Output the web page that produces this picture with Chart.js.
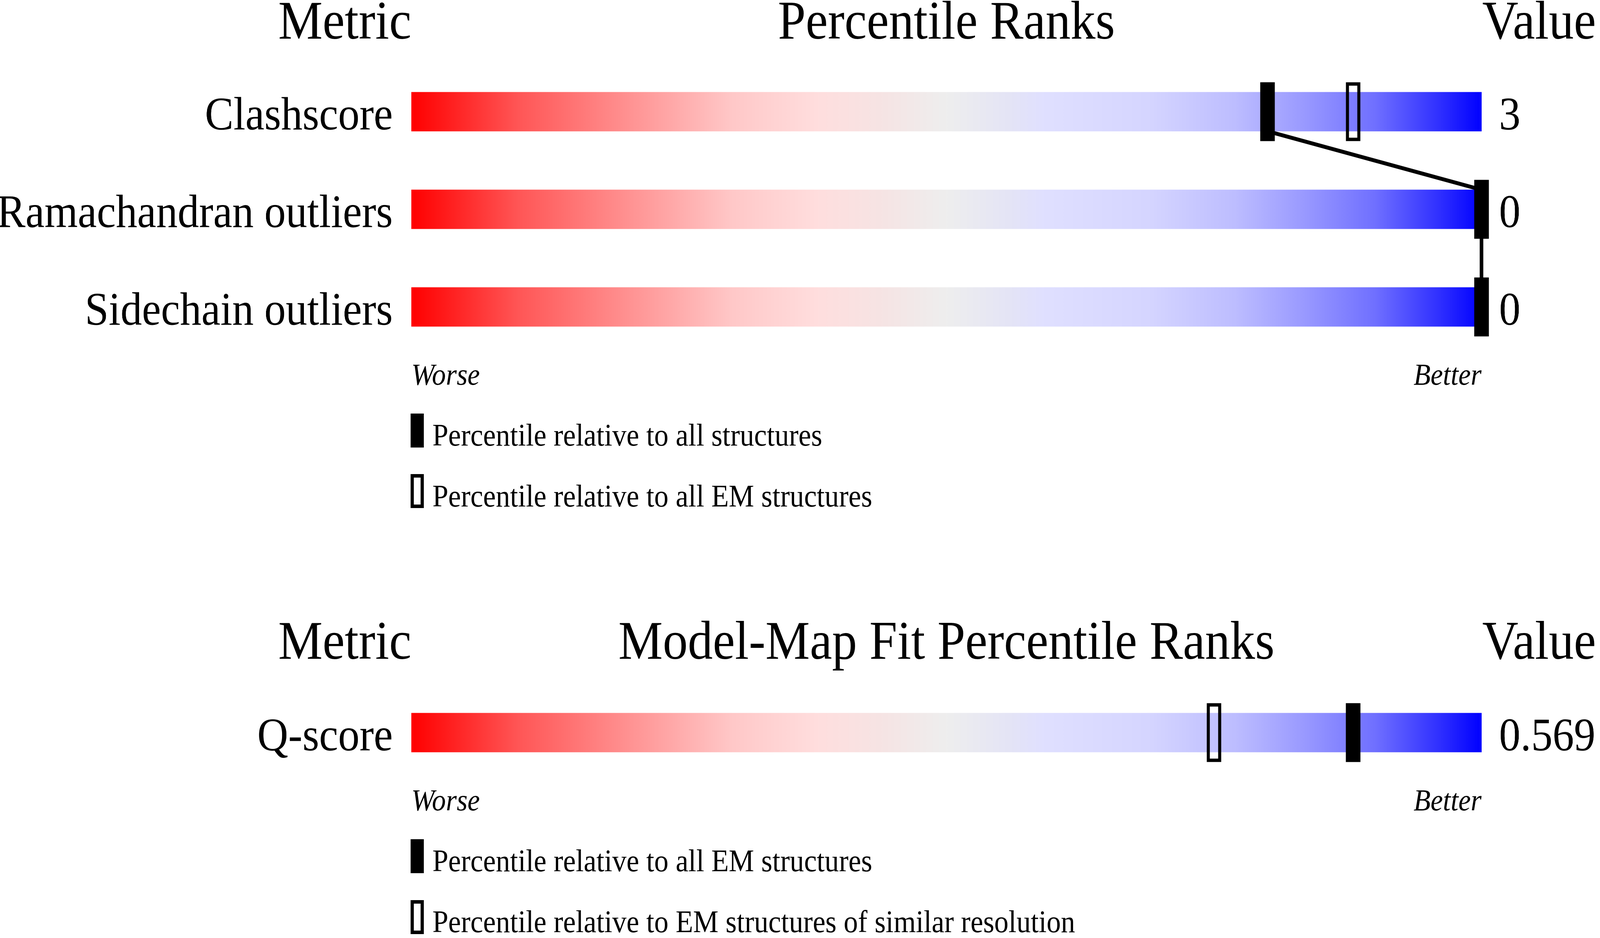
<!DOCTYPE html>
<html>
<head>
<meta charset="utf-8">
<title>Percentile Ranks</title>
<script src="https://cdn.jsdelivr.net/npm/chart.js@4.4.1/dist/chart.umd.min.js"></script>
<style>
html, body { margin:0; padding:0; background:#ffffff; overflow:hidden; width:100%; height:100%; }
body { font-family:'Liberation Serif','Times New Roman',Times,serif; color:#000; }
#stage { position:absolute; left:0; top:0; width:4485px; height:2402px; transform-origin:0 0; overflow:hidden; background:#fff; }
.t { position:absolute; white-space:nowrap; line-height:1; margin:0; }
.hd { font-size:140px; }
.wb { font-size:78px; font-style:italic; }
.lg { font-size:80px; }
.box { position:absolute; box-sizing:border-box; width:37px; height:87px; left:1151px; }
.fill { background:#000; }
.open { background:#fff; border:9px solid #000; }
.panel { position:absolute; left:0; width:4485px; }
canvas { display:block; }
</style>
</head>
<body>
<div id="stage">
  <div class="t hd" style="right:3332px; top:-18px;">Metric</div>
  <div class="t hd" style="left:2653px; top:-18px; transform:translateX(-50%);">Percentile Ranks</div>
  <div class="t hd" style="left:4155px; top:-18px;">Value</div>

  <div class="panel" style="top:161px; height:750px;"><canvas id="c1" width="4485" height="750"></canvas></div>

  <div class="t wb" style="left:1153px; top:920px;">Worse</div>
  <div class="t wb" style="right:332px; top:920px;">Better</div>

  <div class="box fill" style="top:1059px;"></div>
  <div class="t lg" style="left:1212px; top:1074px;">Percentile relative to all structures</div>
  <div class="box open" style="top:1214px;"></div>
  <div class="t lg" style="left:1212px; top:1230px;">Percentile relative to all EM structures</div>

  <div class="t hd" style="right:3332px; top:1570px;">Metric</div>
  <div class="t hd" style="left:2653px; top:1570px; transform:translateX(-50%);">Model-Map Fit Percentile Ranks</div>
  <div class="t hd" style="left:4155px; top:1570px;">Value</div>

  <div class="panel" style="top:1751px; height:250px;"><canvas id="c2" width="4485" height="250"></canvas></div>

  <div class="t wb" style="left:1153px; top:2010px;">Worse</div>
  <div class="t wb" style="right:332px; top:2010px;">Better</div>

  <div class="box fill" style="top:2149px;"></div>
  <div class="t lg" style="left:1212px; top:2164px;">Percentile relative to all EM structures</div>
  <div class="box open" style="top:2305px;"></div>
  <div class="t lg" style="left:1212px; top:2320px;">Percentile relative to EM structures of similar resolution</div>
</div>

<script>
// ---------------- data ----------------
const rankMin = 0;
const rankMax = 100;

const panel1Metrics = ['Clashscore', 'Ramachandran outliers', 'Sidechain outliers'];
const panel1Values  = ['3', '0', '0'];
const panel1PctAll  = [80, 100, 100];   // percentile relative to all structures (filled)
const panel1PctEM   = [88, 100, 100];   // percentile relative to all EM structures (open)

const panel2Metrics    = ['Q-score'];
const panel2Values     = ['0.569'];
const panel2PctAllEM   = [88];          // relative to all EM structures (filled)
const panel2PctSimRes  = [75];          // relative to EM structures of similar resolution (open)

// ---------------- fit the 4485x2402 drawing to the window ----------------
const DESIGN_W = 4485, DESIGN_H = 2402;
document.getElementById('stage').style.transform =
  'scale(' + (window.innerWidth / DESIGN_W) + ',' + (window.innerHeight / DESIGN_H) + ')';

// ---------------- styling ----------------
const FONT = "'Liberation Serif','Times New Roman',Times,serif";
const MARK_HALF = 0.667;       // half marker width in rank units
const gradientStops = [
  [0.00, '#ff0000'], [0.10, '#ff5656'], [0.20, '#ff9090'], [0.30, '#ffc8c8'],
  [0.38, '#ffdede'], [0.44, '#f6e4e4'], [0.50, '#eeeeee'], [0.56, '#e4e4f6'],
  [0.59, '#e0e0ff'], [0.69, '#d5d5ff'], [0.77, '#bdbdff'], [0.835, '#9999ff'],
  [0.90, '#7070ff'], [0.96, '#3030ff'], [1.00, '#0000ff']
];

function rankGradient(ctx) {
  const chart = ctx.chart;
  if (!chart.chartArea) return '#eeeeee';
  const xs = chart.scales.x;
  const g = chart.ctx.createLinearGradient(xs.getPixelForValue(rankMin), 0, xs.getPixelForValue(rankMax), 0);
  gradientStops.forEach(s => g.addColorStop(s[0], s[1]));
  return g;
}

const connectorPlugin = {
  id: 'connector',
  afterDatasetDraw(chart, args, opts) {
    if (args.index !== 0 || !opts.pct || opts.pct.length < 2) return;
    const rows = chart.getDatasetMeta(0).data;
    const xs = chart.scales.x;
    const c = chart.ctx;
    c.save();
    c.strokeStyle = opts.color;
    c.lineWidth = opts.width;
    c.lineJoin = 'miter';
    c.beginPath();
    const n = opts.pct.length;
    opts.pct.forEach((p, i) => {
      const bar = rows[i];
      const x = xs.getPixelForValue(p);
      const top = bar.y - bar.height / 2;
      const bot = bar.y + bar.height / 2;
      if (i === 0) { c.moveTo(x, bot); }
      else { c.lineTo(x, top); if (i < n - 1) c.lineTo(x, bot); }
    });
    c.stroke();
    c.restore();
  }
};

function fixAxis(s, w) { s.width = w; s.paddingTop = 0; s.paddingBottom = 0; }

function makeChart(id, metrics, values, pctFilled, pctOpen) {
  return new Chart(document.getElementById(id), {
    type: 'bar',
    data: {
      labels: metrics,
      datasets: [
        { label: 'range', data: metrics.map(() => [rankMin, rankMax]),
          backgroundColor: rankGradient, borderWidth: 0, barThickness: 100,
          grouped: false, order: 3 },
        { label: 'filled', data: pctFilled.map(p => [p - MARK_HALF, p + MARK_HALF]),
          backgroundColor: '#000000', borderWidth: 0, barThickness: 150,
          grouped: false, order: 1, clip: false },
        { label: 'open', data: pctOpen.map(p => [p - MARK_HALF, p + MARK_HALF]),
          backgroundColor: 'rgba(0,0,0,0)', borderColor: '#000000', borderWidth: 8,
          borderSkipped: false, barThickness: 150, grouped: false, order: 2, clip: false }
      ]
    },
    options: {
      indexAxis: 'y',
      responsive: false,
      maintainAspectRatio: false,
      devicePixelRatio: 2,
      animation: false,
      events: [],
      layout: { padding: 0 },
      scales: {
        x: { type: 'linear', min: rankMin, max: rankMax, display: false },
        y: {
          type: 'category', position: 'left', offset: true,
          grid: { display: false, drawTicks: false }, border: { display: false },
          ticks: { color: '#000', font: { family: FONT, size: 120 }, padding: 52, labelOffset: 14 },
          afterFit(s) { fixAxis(s, 1153); }
        },
        yv: {
          type: 'category', position: 'right', offset: true, labels: values,
          grid: { display: false, drawTicks: false }, border: { display: false },
          ticks: { color: '#000', font: { family: FONT, size: 120 }, padding: 49, labelOffset: 14 },
          afterFit(s) { fixAxis(s, 332); }
        }
      },
      plugins: {
        legend: { display: false },
        tooltip: { enabled: false },
        title: { display: false },
        connector: { pct: pctFilled, color: '#000000', width: 10 }
      }
    },
    plugins: [connectorPlugin]
  });
}

makeChart('c1', panel1Metrics, panel1Values, panel1PctAll, panel1PctEM);
makeChart('c2', panel2Metrics, panel2Values, panel2PctAllEM, panel2PctSimRes);
</script>
</body>
</html>
